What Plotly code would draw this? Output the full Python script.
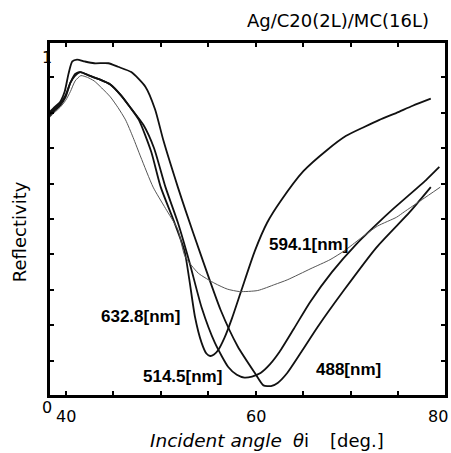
import plotly.graph_objects as go

# ---- data ----
theta_488 = [38.25, 38.8, 39.4, 39.9, 40.3, 40.7, 41.2, 42.0, 43.0, 44.5, 45.5, 46.9, 48.4, 49.4, 50.3,
             51.8, 52.6, 54.2, 56.3, 58.1, 59.9, 60.8, 61.6, 62.3, 63.3, 64.8, 66.5, 69.3, 72.7, 76.2, 78.4]
refl_488 = [0.80, 0.815, 0.83, 0.86, 0.91, 0.945, 0.95, 0.945, 0.94, 0.94, 0.93, 0.915, 0.873, 0.81, 0.72,
            0.59, 0.525, 0.40, 0.243, 0.14, 0.065, 0.03, 0.028, 0.037, 0.065, 0.125, 0.195, 0.30, 0.42, 0.52, 0.59]

theta_514 = [38.25, 38.8, 39.4, 40.0, 40.5, 41.0, 41.6, 42.5, 43.5, 44.7, 45.8, 46.8, 48.2, 49.3, 50.5,
             51.8, 53.0, 54.3, 55.7, 57.1, 58.0, 58.8, 59.6, 60.5, 61.5, 62.5, 64.0, 65.7, 68.0, 70.6,
             72.5, 74.5, 77.9, 79.3]
refl_514 = [0.795, 0.81, 0.825, 0.85, 0.885, 0.91, 0.915, 0.905, 0.895, 0.88, 0.85, 0.815, 0.765, 0.70, 0.59,
            0.49, 0.38, 0.25, 0.15, 0.082, 0.06, 0.052, 0.055, 0.065, 0.09, 0.125, 0.19, 0.265, 0.35, 0.43,
            0.48, 0.53, 0.61, 0.647]

theta_633 = [38.25, 38.8, 39.4, 40.0, 40.5, 41.0, 41.5, 42.5, 43.5, 44.7, 45.8, 46.8, 47.7, 49.0, 50.0,
             51.3, 52.5, 53.0, 53.6, 54.3, 54.8, 55.2, 55.6, 56.05, 56.7, 57.5, 58.5, 59.9, 61.2, 62.6,
             65.0, 67.5, 69.5, 71.4, 73.0, 74.8, 76.5, 78.4]
refl_633 = [0.79, 0.805, 0.82, 0.845, 0.885, 0.905, 0.915, 0.905, 0.895, 0.88, 0.85, 0.815, 0.78, 0.69, 0.59,
            0.50, 0.41, 0.33, 0.224, 0.15, 0.12, 0.113, 0.117, 0.13, 0.164, 0.22, 0.30, 0.41, 0.49, 0.55,
            0.635, 0.695, 0.735, 0.76, 0.78, 0.80, 0.82, 0.84]

theta_594 = [38.25, 38.8, 39.4, 40.0, 40.5, 41.0, 41.6, 42.3, 43.0, 43.8, 44.7, 45.5, 46.3, 47.1, 47.9,
             49.2, 50.5, 51.8, 52.55, 53.95, 55.7, 57.0, 58.3, 60.2, 62.0, 63.3, 65.8, 67.8, 69.3, 71.0,
             72.8, 74.8, 75.6, 77.5, 79.4]
refl_594 = [0.785, 0.80, 0.815, 0.835, 0.86, 0.89, 0.905, 0.90, 0.89, 0.87, 0.845, 0.815, 0.78, 0.73, 0.675,
            0.59, 0.53, 0.47, 0.395, 0.347, 0.318, 0.302, 0.295, 0.298, 0.315, 0.328, 0.36, 0.385, 0.41, 0.445,
            0.48, 0.505, 0.52, 0.555, 0.59]

curve_labels = ["488[nm]", "514.5[nm]", "632.8[nm]", "594.1[nm]"]
label_theta = [69.76, 52.3, 47.9, 65.5]
label_refl = [0.076, 0.054, 0.226, 0.427]

x_tick_vals = [40, 60, 80]
x_tick_text = ["40", "60", "80"]
y_tick_vals = [0, 1]
y_tick_text = ["0", "1"]

title_text = "Ag/C20(2L)/MC(16L)"
x_title_parts = ["<i>Incident angle</i>", "<i>θ</i>i", "[deg.]"]
y_title = "Reflectivity"

# ---- figure ----
FONT = "DejaVu Sans"
LFONT = "Liberation Sans"
W, H = 451, 453
L, R, T, B = 49, 3, 42, 57
PW, PH = W - L - R, H - T - B


def px_x(px):
    return (px - L) / PW


def px_y(py):
    return (H - B - py) / PH


fig = go.Figure()
series = [
    (theta_488, refl_488, "#111111", 1.8),
    (theta_514, refl_514, "#111111", 1.8),
    (theta_633, refl_633, "#111111", 1.8),
    (theta_594, refl_594, "#555555", 1.0),
]
for xs, ys, col, w in series:
    fig.add_trace(go.Scatter(x=xs, y=ys, mode="lines", line=dict(color=col, width=w, shape="spline", smoothing=0.6),
                             showlegend=False, hoverinfo="skip"))

X0, X1 = 38.25, 80.0
fig.update_layout(
    width=W, height=H,
    margin=dict(l=L, r=R, t=T, b=B),
    paper_bgcolor="white", plot_bgcolor="white",
    showlegend=False,
    xaxis=dict(range=[X0, X1], showgrid=False, zeroline=False, showline=True, linecolor="black", linewidth=2,
               mirror="ticks", ticks="inside", ticklen=5, tickwidth=1.5, tickcolor="black",
               tickvals=[40, 45, 50, 55, 60, 65, 70, 75, 80], showticklabels=False),
    yaxis=dict(range=[0, 1], showgrid=False, zeroline=False, showline=True, linecolor="black", linewidth=2,
               mirror="ticks", ticks="inside", ticklen=5, tickwidth=1.5, tickcolor="black",
               tickvals=[i / 10 for i in range(11)], showticklabels=False),
    shapes=[dict(type="rect", xref="paper", yref="paper", x0=0, y0=0, x1=1, y1=1,
                 line=dict(color="black", width=2), fillcolor="rgba(0,0,0,0)", layer="above")],
)

ann = []
for t, x, y in zip(curve_labels, label_theta, label_refl):
    ann.append(dict(x=x, y=y, xref="x", yref="y", text=t, showarrow=False,
                    font=dict(family=LFONT, size=17, color="black", weight="bold")))
# x tick labels
xshift = [0, 0, -8]
for v, t, s in zip(x_tick_vals, x_tick_text, xshift):
    ann.append(dict(x=v, y=0, xref="x", yref="y", text=t, showarrow=False, yshift=-20, xshift=s,
                    font=dict(family=FONT, size=16, color="black")))
# y tick labels
yshift = [-11.5, -15]
for v, t, s in zip(y_tick_vals, y_tick_text, yshift):
    ann.append(dict(x=0, y=v, xref="paper", yref="y", text=t, showarrow=False, xshift=-9, yshift=s,
                    font=dict(family=FONT, size=16, color="black")))
ann.append(dict(x=px_x(433), y=px_y(21), xref="paper", yref="paper", text=title_text,
                showarrow=False, xanchor="right", yanchor="middle", font=dict(family=FONT, size=18, color="black")))
# x title in three pieces
xt_pos = [(148, "left", 18.5), (302, "center", 18), (388, "right", 18)]
for t, (px, anc, fs) in zip(x_title_parts, xt_pos):
    ann.append(dict(x=px_x(px), y=px_y(440), xref="paper", yref="paper", text=t, xanchor=anc, yanchor="middle",
                    showarrow=False, font=dict(family=FONT, size=fs, color="black")))
ann.append(dict(x=px_x(19), y=px_y(232), xref="paper", yref="paper", text=y_title, textangle=-90,
                showarrow=False, xanchor="center", yanchor="middle", font=dict(family=FONT, size=18, color="black")))
fig.update_layout(annotations=ann)

fig.write_html("out.html", config={"displayModeBar": False},
               post_script="document.body.style.margin='0';")
